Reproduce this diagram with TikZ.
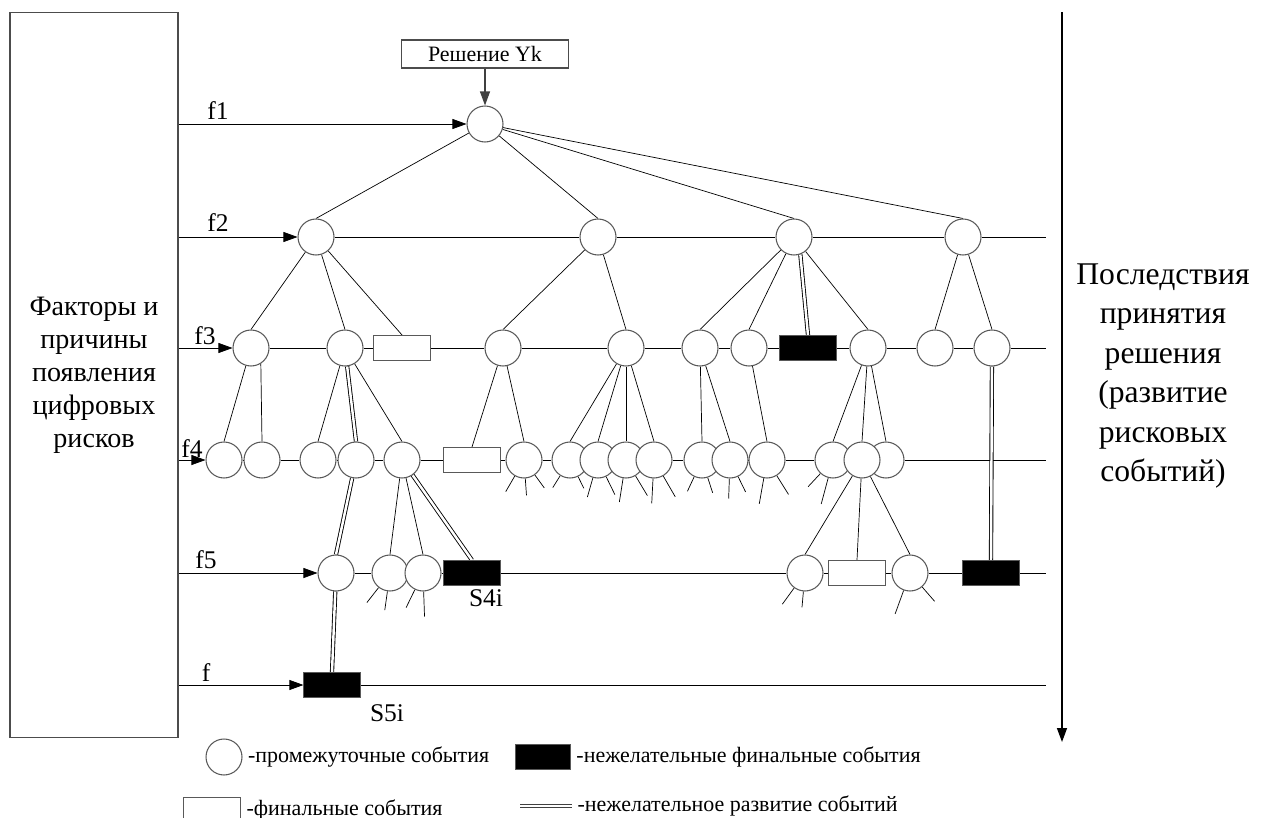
\documentclass[tikz,border=0pt]{standalone}
\usepackage{fontspec}
\setmainfont{Liberation Serif}
\usetikzlibrary{positioning,arrows.meta,backgrounds}

\begin{document}
\begin{tikzpicture}[
			x=0.02cm,y=0.02cm,
			ev/.style={draw=black!65,fill=white,circle,minimum size=0.72cm,inner sep=0pt,line width=0.6pt},
			fin/.style={draw=black!65,fill=white,minimum width=1.13cm,minimum height=0.5cm,inner sep=0pt,line width=0.6pt},
			bad/.style={draw=black!65,fill=black,minimum width=1.13cm,minimum height=0.5cm,inner sep=0pt},
			dbl/.style={double=white,double distance=1.4pt,line width=0.5pt},
			lbl/.style={font=\fontsize{14.5}{16}\selectfont,inner sep=0pt},
			txt/.style={font=\fontsize{12.5}{15}\selectfont,inner sep=0pt},
			>={Triangle[length=0.28cm,width=0.2cm]}
			]
			
			\useasboundingbox (0,0) rectangle (1268,-818);
			
			\node[draw=black!70,line width=0.6pt,minimum width=3.36cm,minimum height=14.52cm,align=center,
			font=\fontsize{16}{18.8}\selectfont] (box) at (94,-375)
			{Факторы и\\причины\\появления\\цифровых\\рисков};
			
			\node[align=center,font=\fontsize{18}{22.5}\selectfont] (res) at (1163,-376)
			{Последствия\\принятия\\решения\\(развитие\\рисковых\\событий)};
			
			\coordinate (ytop) at (1062,-12);
			\coordinate (ybot) at (1062,-742);
			\coordinate (rend) at (1046,0);
			
			\node[draw=black!70,line width=0.6pt,fill=white,minimum width=3.34cm,minimum height=0.56cm,
			txt] (yk) at (485,-54) {Решение Yk};
			
			% level f1, f2
			\node[ev] (a) at (485,-124) {};
			\node[ev] (b1) at (316,-237) {};
			\node[ev] (b2) at (598,-237) {};
			\node[ev] (b3) at (794,-237) {};
			\node[ev] (b4) at (963,-237) {};
			
			% level f3
			\node[ev] (c1) at (251,-348) {};
			\node[ev] (c2) at (345,-348) {};
			\node[fin] (c3) at (402,-348) {};
			\node[ev] (c4) at (503,-348) {};
			\node[ev] (c5) at (626,-348) {};
			\node[ev] (c6) at (700,-348) {};
			\node[ev] (c7) at (749,-348) {};
			\node[bad] (c8) at (808,-348) {};
			\node[ev] (c9) at (868,-348) {};
			\node[ev] (c10) at (935,-348) {};
			\node[ev] (c11) at (992,-348) {};
			
			% level f4
			\node[ev] (d1) at (224,-460) {};
			\node[ev] (d2) at (262,-460) {};
			\node[ev] (d3) at (318,-460) {};
			\node[ev] (d4) at (356,-460) {};
			\node[ev] (d5) at (402,-460) {};
			\node[fin] (d6) at (472,-460) {};
			\node[ev] (d7) at (524,-460) {};
			\node[ev] (d8) at (570,-460) {};
			\node[ev] (d9) at (598,-460) {};
			\node[ev] (d10) at (626,-460) {};
			\node[ev] (d11) at (654,-460) {};
			\node[ev] (d12) at (702,-460) {};
			\node[ev] (d13) at (730,-460) {};
			\node[ev] (d14) at (767,-460) {};
			\node[ev] (d15) at (833,-460) {};
			\node[ev] (d17) at (886,-460) {};
			\node[ev] (d16) at (862,-460) {};
			
			% level f5, f
			\node[ev] (g1) at (336,-573) {};
			\node[ev] (g2) at (390,-573) {};
			\node[ev] (g3) at (423,-573) {};
			\node[bad] (g4) at (472,-573) {};
			\node[ev] (g5) at (805,-573) {};
			\node[fin] (g6) at (857,-573) {};
			\node[ev] (g7) at (910,-573) {};
			\node[bad] (g8) at (991,-573) {};
			\node[bad] (h1) at (332,-685) {};
			
			% labels
			\node[lbl] (l1) at (218,-111) {f1};
			\node[lbl] (l2) at (218,-223) {f2};
			\node[lbl] (l3) at (205,-336) {f3};
			\node[lbl] (l4) at (192,-449) {f4};
			\node[lbl] (l5) at (206,-560) {f5};
			\node[lbl] (l6) at (206,-673) {f};
			\node[lbl] (s4) at (486,-598) {S4i};
			\node[lbl] (s5) at (387,-713) {S5i};
			
			\begin{scope}[on background layer,color=black!75,line width=0.6pt]
			% rows
			\draw[->] (box.east |- a) -- (a);
			\draw[->] (box.east |- b1) -- (b1);
			\draw (b1) -- (b2) -- (b3) -- (b4) -- (b4 -| rend);
			\draw[->] (box.east |- c1) -- (c1);
			\draw (c1) -- (c2) -- (c3) -- (c4) -- (c5) -- (c6) -- (c7) -- (c8) -- (c9) -- (c10) -- (c11) -- (c11 -| rend);
			\draw[->] (box.east |- d1) -- (d1);
			\draw (d1) -- (d2) -- (d3) -- (d4) -- (d5) -- (d6) -- (d7) -- (d8) -- (d9) -- (d10) -- (d11) -- (d12) -- (d13) -- (d14) -- (d15) -- (d16) -- (d17) -- (d17 -| rend);
			\draw[->] (box.east |- g1) -- (g1);
			\draw (g1) -- (g2) -- (g3) -- (g4) -- (g5) -- (g6) -- (g7) -- (g8) -- (g8 -| rend);
			\draw[->] (box.east |- h1) -- (h1);
			\draw (h1) -- (h1 -| rend);
			
			% tree
			\foreach \p/\c in {a/b1,a/b2,a/b3,a/b4,b1/c1,b1/c2,b1/c3,b2/c4,b2/c5,b3/c6,b3/c7,b3/c9,b4/c10,b4/c11,
				c1/d1,c2/d3,c2/d5,c4/d6,c4/d7,c5/d8,c5/d9,c5/d10,c5/d11,c6/d12,c6/d13,c7/d14,c9/d15,c9/d16,c9/d17,
				d5/g2,d5/g3,d16/g5,d16/g6,d16/g7}
			\draw (\p) -- (\c.north);
			\draw (c1.-58) -- (d2.north);
			
			% undesirable paths
			\foreach \p/\c in {c2/d4,d4/g1,d5/g4,c11/g8,g1/h1}
			\draw[dbl] (\p) -- (\c.north);
			\draw[dbl] (b3.-70) -- (c8.north);
			
			% open branches
			\foreach \n/\an/\l in {d7/-120/18,d7/-86/17,d7/-54/16,d8/-122/14,d8/-64/13,d9/-106/20,d9/-64/20,
				d10/-99/24,d10/-59/23,d11/-93/25,d11/-60/24,d12/-115/16,d12/-72/16,d13/-92/20,d13/-64/17,
				d14/-100/26,d14/-58/22,d15/-133/18,d15/-105/27,g2/-128/19,g2/-98/19,g3/-116/20,g3/-88/25,
				g5/-126/20,g5/-95/16,g7/-110/25,g7/-49/19}
			\draw (\n.\an) -- ++(\an:\l);
			\end{scope}
			
			\draw[->,color=black!75,line width=0.6pt] (yk) -- (a);
			\draw[->,line width=0.8pt] (ytop) -- (ybot);
			
			% legend
			\node[ev] (lc) at (224,-757) {};
			\node[txt,right=3pt of lc] (lct) {-промежуточные события};
			\node[bad,minimum width=1.1cm] (lb) at (543,-757) {};
			\node[txt,right=3pt of lb] (lbt) {-нежелательные финальные события};
			\node[fin,minimum width=1.14cm] (lf) at (212,-810) {};
			\node[txt,right=3pt of lf] (lft) {-финальные события};
			\coordinate (ld1) at (520,-806);
			\coordinate (ld2) at (572,-806);
			\draw[dbl,color=black!75] (ld1) -- (ld2);
			\node[txt,right=3pt of ld2] (ldt) {-нежелательное развитие событий};
			
		\end{tikzpicture}
\end{document}
